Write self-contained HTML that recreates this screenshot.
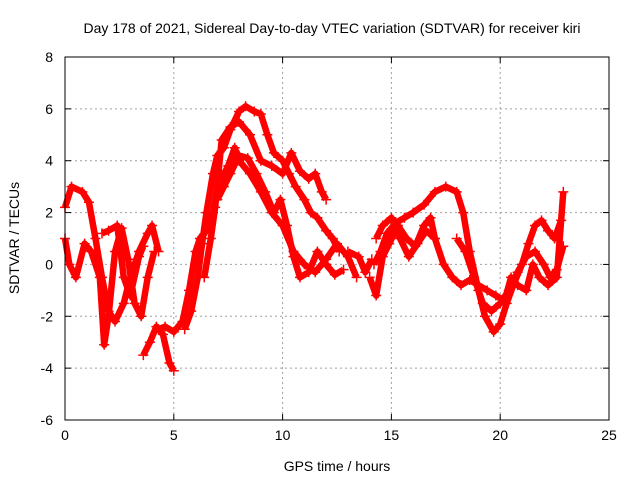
<!DOCTYPE html>
<html><head><meta charset="utf-8"><style>
body{margin:0;background:#fff}
svg{display:block;font-family:"Liberation Sans",sans-serif}
</style></head><body>
<svg id="chart" width="640" height="480">
<text x="332" y="33" font-size="14" text-anchor="middle">Day 178 of 2021, Sidereal Day-to-day VTEC variation (SDTVAR) for receiver kiri</text>
<g id="grid"></g>
<g id="axes"></g>
<g id="series"></g>
<rect x="65" y="57" width="544" height="363" fill="none" stroke="#000" stroke-width="1"/>
<text x="337" y="471" font-size="14" text-anchor="middle">GPS time / hours</text>
<text transform="translate(19,238) rotate(-90)" font-size="14" text-anchor="middle">SDTVAR / TECUs</text>
</svg>
<script>
const xTicks=[0,5,10,15,20,25];
const yTicks=[8,6,4,2,0,-2,-4,-6];
const t1=[[0,2.2],[0.3,3.0],[0.8,2.8],[1.1,2.4],[1.4,1.0],[1.7,-0.5],[2.0,-1.8],[2.3,-2.2],[2.7,-1.5],[3.0,-0.5],[3.4,0.5],[3.8,1.2],[4.0,1.5],[4.3,0.5]];
const t2=[[0,1.0],[0.2,0],[0.5,-0.5],[0.9,0.8],[1.2,0.5],[1.6,-0.5],[1.8,-3.1],[2.0,-2],[2.3,0.5],[2.6,1.4],[2.9,0.2],[3.2,-1.5],[3.5,-2.0],[3.8,-0.5],[4.1,0.5]];
const t3=[[1.7,1.2],[2.0,1.3],[2.4,1.5],[2.7,-0.5],[3.0,-1.2],[3.4,0.3],[3.6,0.7]];
const t4=[[3.6,-3.5],[3.9,-3.0],[4.2,-2.4],[4.5,-2.7],[4.8,-3.8],[5.0,-4.1]];
const t5=[[4.3,-2.5],[4.6,-2.4],[5.0,-2.6],[5.4,-2.2],[5.7,-1.0],[6.0,0.5],[6.2,1.0],[6.5,1.3],[6.8,2.0],[7.0,3.0],[7.5,3.8],[7.8,4.5],[8.0,4.0],[8.5,3.5],[9.0,2.8],[9.5,2.0],[10.0,1.5],[10.5,0.5],[11,0],[11.5,-0.3],[12,0.2],[12.5,0.8],[13,0.3],[13.4,-0.5]];
const t6=[[5.5,-2.5],[5.8,-1.8],[6.1,-0.5],[6.3,0.8],[6.5,2.0],[6.8,3.5],[7.0,4.2],[7.3,4.5],[7.6,5.2],[8.0,5.9],[8.3,6.1],[8.7,5.9],[9.0,5.8],[9.3,5.0],[9.6,4.3],[10.0,4.0],[10.3,3.5],[10.6,3.0],[11.0,2.5],[11.3,2.0],[11.6,1.8],[12.0,1.3],[12.3,1.0],[12.6,0.5]];
const t7=[[6.4,-0.5],[6.7,1.0],[6.9,2.2],[7.2,4.8],[7.6,5.3],[8.0,5.5],[8.5,5.0],[9.0,4.0],[9.5,3.8],[10,3.5],[10.4,4.3],[10.8,3.6],[11.2,3.3],[11.5,3.5],[11.8,2.8],[12.0,2.5]];
const t8=[[7.0,2.5],[7.3,3.0],[7.6,3.5],[8.0,4.2],[8.4,4.1],[8.8,3.5],[9.2,2.8],[9.6,2.0],[9.9,2.5],[10.2,1.5],[10.5,0.3],[10.8,-0.5],[11.2,-0.3],[11.6,0.5],[12.0,0],[12.4,-0.4],[12.8,-0.2]];
const t9=[[14.2,0],[14.5,0.5],[14.8,1.2],[15.2,1.6],[15.6,1.8],[16.0,2.0],[16.5,2.3],[17.0,2.8],[17.5,3.0],[18.0,2.8],[18.3,2.0],[18.6,0.5],[19.0,-1.0],[19.3,-2.0],[19.7,-2.6],[20.0,-2.3],[20.3,-1.5],[20.6,-0.8],[21.0,0],[21.3,0.8],[21.6,1.5],[21.9,1.7],[22.2,1.3],[22.5,1.0],[22.8,1.7]];
const t10=[[14.3,1.0],[14.6,1.5],[15.0,1.8],[15.4,1.0],[15.8,0.3],[16.2,0.8],[16.6,1.3],[17.0,1.0],[17.4,0],[17.8,-0.5],[18.2,-0.8],[18.6,-0.6],[19.0,-0.8],[19.4,-1.0],[19.8,-1.2],[20.2,-1.4],[20.5,-0.5],[20.8,-0.8],[21.2,-1.0],[21.5,0],[21.8,-0.5],[22.2,-0.8],[22.6,-0.5],[22.9,2.8]];
const t11=[[14.0,-0.5],[14.3,-1.2],[14.6,0.3],[14.9,0.8],[15.3,1.5],[15.7,1.0],[16.1,0.7],[16.5,1.5],[16.8,1.8],[17.0,1.0]];
const t12=[[13.0,0.5],[13.5,0.3],[13.8,-0.3],[14.1,0.2]];
const t13=[[18.0,1.0],[18.4,0.5],[18.8,-0.5],[19.2,-1.5],[19.6,-1.8],[20,-1.5],[20.4,-1.0],[20.8,-0.3],[21.2,0.3],[21.6,0.5],[22.0,0],[22.3,-0.5],[22.6,-0.2],[22.9,0.7]];
const tracks=[t1,t2,t3,t4,t5,t6,t7,t8,t9,t10,t11,t12,t13];

const X0=65,X1=609,Y0=420,Y1=57;
const sx=v=>X0+(v-0)/(25-0)*(X1-X0);
const sy=v=>Y0-(v-(-6))/(8-(-6))*(Y0-Y1);
const NS="http://www.w3.org/2000/svg";
const grid=document.getElementById('grid'),axes=document.getElementById('axes'),ser=document.getElementById('series');
function mk(tag,attrs,parent){const e=document.createElementNS(NS,tag);for(const k in attrs)e.setAttribute(k,attrs[k]);parent.appendChild(e);return e;}
xTicks.forEach(v=>{
 const x=sx(v);
 if(v>0&&v<25){const g=mk('line',{x1:x,x2:x,y1:Y1,y2:Y0,stroke:'#a0a0a0','stroke-dasharray':'2,3'},grid);
 
 }
 mk('line',{x1:x,x2:x,y1:Y0,y2:Y0-6,stroke:'#000'},axes);
 mk('line',{x1:x,x2:x,y1:Y1,y2:Y1+6,stroke:'#000'},axes);
 const t=mk('text',{x:x,y:Y0+20,'font-size':14,'text-anchor':'middle'},axes);t.textContent=v;
 
 
});
yTicks.forEach(v=>{
 const y=sy(v);
 if(v>-6&&v<8){const g=mk('line',{x1:X0,x2:X1,y1:y,y2:y,stroke:'#a0a0a0','stroke-dasharray':'2,3'},grid);
 
 }
 mk('line',{x1:X0,x2:X0+6,y1:y,y2:y,stroke:'#000'},axes);
 mk('line',{x1:X1,x2:X1-6,y1:y,y2:y,stroke:'#000'},axes);
 const t=mk('text',{x:X0-12,y:y+5,'font-size':14,'text-anchor':'end'},axes);t.textContent=v;
 
 
});
tracks.forEach(tr=>{
 const p=mk('polyline',{points:tr.map(d=>sx(d[0])+','+sy(d[1])).join(' '),fill:'none',stroke:'#f00','stroke-width':6.5,'stroke-linejoin':'round'},ser);
 
 
 tr.forEach(d=>{
  const x=sx(d[0]),y=sy(d[1]);
  const m=mk('path',{d:`M${x-5},${y}H${x+5}M${x},${y-5}V${y+5}`,stroke:'#f00','stroke-width':1.5},ser);
  
  
 });
});
</script>
</body></html>
